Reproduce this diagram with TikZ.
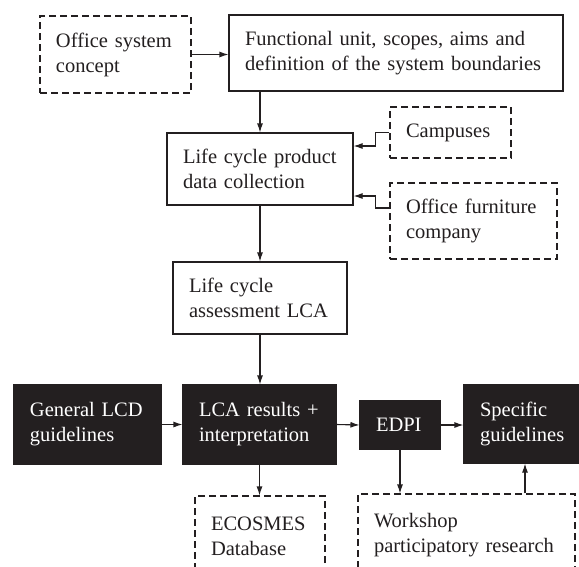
\documentclass[tikz,border=0pt]{standalone}
\usepackage{fontspec}
\setmainfont{Liberation Serif}
\usepackage{tikz}
\usetikzlibrary{arrows.meta}
\definecolor{ink}{HTML}{231F20}
\tikzstyle{stage} = [draw=ink, line width=1.1pt, fill=white, text=ink,
    align=left, inner xsep=16pt, inner ysep=0pt,
    font=\fontsize{20.5}{25}\selectfont]
\tikzstyle{source} = [stage, dash pattern=on 7pt off 4pt]
\tikzstyle{result} = [stage, fill=ink, text=white]
\tikzset{>={Latex[length=9pt,width=6pt]}}

\begin{document}
\begin{tikzpicture}[x=1pt,y=-1pt]
    \useasboundingbox (0,0) rectangle (579,566);
    \clip (0,0) rectangle (579,566);
    %boxes
    \node[source, text width=119pt, minimum height=77pt] (osc) at (115.5,54.5) {Office system\\concept};
    \node[stage, text width=302pt, minimum height=76pt] (fu) at (396,53) {Functional unit, scopes, aims and\\definition of the system boundaries};
    \node[stage, text width=154pt, minimum height=72pt] (pdc) at (260,169) {Life cycle product\\data collection};
    \node[source, text width=89pt, minimum height=51pt] (camp) at (450.5,132.5) {Campuses};
    \node[source, text width=135pt, minimum height=76pt] (furn) at (473.5,221) {Office furniture\\company};
    \node[stage, text width=142pt, minimum height=72pt] (lca) at (260,298) {Life cycle\\assessment LCA};
    \node[result, text width=115pt, minimum height=79pt] (gen) at (87.5,424.5) {General LCD\\guidelines};
    \node[result, text width=121pt, minimum height=79pt] (res) at (259.5,424.5) {LCA results +\\interpretation};
    \node[result, text width=48pt, minimum height=48pt] (edpi) at (400,425) {EDPI};
    \node[result, text width=90pt, minimum height=78pt] (spec) at (525,424) {Specific\\guidelines};
    \node[source, text width=98pt, minimum height=80pt] (eco) at (260,536) {ECOSMES\\Database};
    \node[source, text width=185pt, minimum height=82pt] (work) at (466.5,535) {Workshop\\participatory research};
    %arrows
    \draw[->, ink, line width=1.1pt] (osc.east) -- (osc.east -| fu.west);
    \draw[->, ink, line width=1.1pt] (pdc.north |- fu.south) -- (pdc.north);
    \draw[->, ink, line width=1.1pt] (camp.west) -- ++(-14,0) |- ([yshift=23pt]pdc.east);
    \draw[->, ink, line width=1.1pt] ([yshift=13pt]furn.west) -- ++(-14,0) |- ([yshift=-27pt]pdc.east);
    \draw[->, ink, line width=1.1pt] (pdc) -- (lca);
    \draw[->, ink, line width=1.1pt] (lca.south) -- (lca.south |- res.north);
    \draw[->, ink, line width=1.1pt] (gen) -- (res);
    \draw[->, ink, line width=1.1pt] (res.east) -- (edpi.west);
    \draw[->, ink, line width=1.1pt] (edpi.east) -- (edpi.east -| spec.west);
    \draw[->, ink, line width=1.1pt] (res.south) -- (res.south |- eco.north);
    \draw[->, ink, line width=1.1pt] (edpi.south) -- (edpi.south |- work.north);
    \draw[->, ink, line width=1.1pt] (spec.south |- work.north) -- (spec.south);
\end{tikzpicture}
\end{document}
